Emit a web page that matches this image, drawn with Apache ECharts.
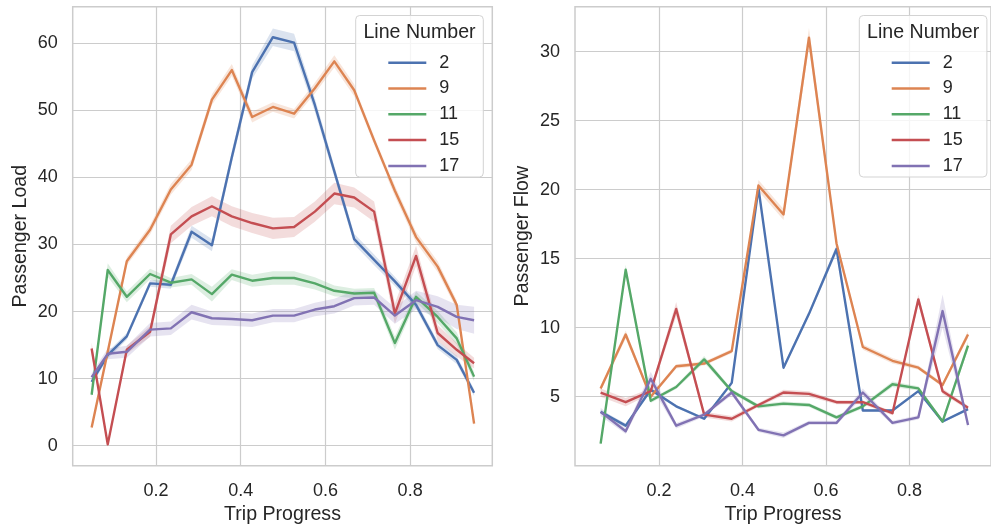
<!DOCTYPE html>
<html>
<head>
<meta charset="utf-8">
<script src="https://cdn.jsdelivr.net/npm/echarts@6/dist/echarts.min.js"></script>
<style>
  html, body { margin: 0; padding: 0; background: #ffffff; }
  #chart { width: 991px; height: 530px; }
</style>
</head>
<body>
<div id="chart"></div>
<script>
// Bus lines and their colours
const lineNames = ['2', '9', '11', '15', '17'];
const lineColors = ['#4c72b0', '#dd8452', '#55a868', '#c44e52', '#8172b3'];

// Left panel: mean passenger load along the trip
const loadProgress = [0.048, 0.086, 0.131, 0.186, 0.235, 0.284, 0.332, 0.379, 0.427, 0.476,
                      0.526, 0.575, 0.621, 0.668, 0.715, 0.764, 0.814, 0.865, 0.910, 0.951];
const load2  = [9.5, 13.5, 16.3, 24.2, 24.0, 31.9, 29.9, 43.0, 55.7, 60.9, 60.1, 50.8, 40.9, 30.8, 27.7, 24.5, 21.0, 15.0, 12.8, 7.9];
const load9  = [2.7, 14.0, 27.5, 32.2, 38.2, 41.9, 51.6, 56.0, 49.0, 50.5, 49.5, 53.3, 57.3, 53.0, 45.5, 38.0, 31.1, 26.7, 21.0, 3.3];
const load11 = [7.6, 26.2, 22.2, 25.6, 24.3, 24.8, 22.6, 25.5, 24.6, 25.0, 25.0, 24.2, 23.1, 22.7, 22.8, 15.3, 22.2, 19.2, 16.0, 10.3];
const load15 = [14.5, 0.2, 14.3, 17.0, 31.5, 34.2, 35.7, 34.2, 33.2, 32.4, 32.6, 34.9, 37.6, 37.0, 34.9, 19.7, 28.3, 16.8, 14.3, 12.3];
const load17 = [10.2, 13.7, 14.0, 17.3, 17.5, 19.9, 19.0, 18.9, 18.7, 19.4, 19.4, 20.3, 20.8, 22.0, 22.1, 19.4, 21.7, 20.7, 19.2, 18.7];
// half-width of the 95% confidence band for each load value
const loadCi2  = [0.5, 0.5, 0.5, 0.5, 0.6, 0.9, 0.9, 0.9, 1.0, 1.3, 1.3, 1.0, 0.8, 0.8, 0.8, 0.7, 0.6, 0.6, 0.6, 0.5];
const loadCi9  = [0.4, 0.5, 0.6, 0.7, 0.8, 0.8, 0.8, 0.9, 0.8, 0.7, 0.7, 0.8, 0.9, 0.9, 0.9, 0.8, 0.8, 0.8, 0.7, 0.5];
const loadCi11 = [0.5, 1.0, 0.8, 0.8, 0.7, 0.8, 1.1, 0.8, 0.9, 1.0, 1.0, 0.9, 0.8, 0.7, 0.7, 1.0, 0.8, 0.9, 0.9, 0.7];
const loadCi15 = [0.9, 0.3, 0.6, 0.8, 1.3, 1.4, 1.5, 1.5, 1.5, 1.6, 1.5, 1.5, 1.6, 1.5, 1.5, 1.5, 1.5, 1.2, 1.0, 0.8];
const loadCi17 = [0.6, 0.8, 0.9, 1.0, 1.0, 1.1, 1.0, 1.0, 1.0, 1.0, 1.0, 1.0, 1.1, 1.1, 1.1, 1.2, 1.4, 1.6, 1.8, 2.0];

// Right panel: mean passenger flow (boardings + alightings) along the trip
const flowProgress = [0.060, 0.120, 0.180, 0.241, 0.308, 0.374, 0.438, 0.498, 0.559, 0.625, 0.688, 0.759, 0.821, 0.879, 0.940];
const flow2  = [3.9, 2.9, 5.5, 4.3, 3.4, 6.0, 20.1, 7.1, 11.0, 15.7, 4.0, 4.0, 5.4, 3.2, 4.1];
const flow9  = [5.6, 9.5, 5.0, 7.2, 7.4, 8.3, 20.3, 18.2, 31.0, 16.1, 8.6, 7.6, 7.1, 5.85, 9.5];
const flow11 = [1.6, 14.2, 4.7, 5.7, 7.7, 5.4, 4.3, 4.5, 4.4, 3.5, 4.3, 5.9, 5.6, 3.2, 8.7];
const flow15 = [5.3, 4.6, 5.4, 11.35, 3.7, 3.4, 4.4, 5.3, 5.2, 4.6, 4.6, 3.8, 12.05, 5.4, 4.2];
const flow17 = [3.9, 2.5, 6.3, 2.9, 3.7, 5.3, 2.6, 2.2, 3.1, 3.1, 5.3, 3.1, 3.5, 11.2, 2.95];
const flowCi2  = [0.15, 0.15, 0.15, 0.1, 0.1, 0.15, 0.3, 0.15, 0.2, 0.3, 0.1, 0.1, 0.1, 0.1, 0.1];
const flowCi9  = [0.2, 0.3, 0.15, 0.15, 0.15, 0.15, 0.4, 0.4, 0.7, 0.3, 0.2, 0.2, 0.15, 0.15, 0.25];
const flowCi11 = [0.15, 0.35, 0.15, 0.15, 0.25, 0.15, 0.15, 0.15, 0.15, 0.15, 0.15, 0.2, 0.15, 0.15, 0.3];
const flowCi15 = [0.3, 0.3, 0.2, 0.5, 0.2, 0.2, 0.15, 0.2, 0.2, 0.15, 0.15, 0.15, 0.35, 0.2, 0.15];
const flowCi17 = [0.3, 0.2, 0.5, 0.2, 0.15, 0.2, 0.15, 0.2, 0.15, 0.15, 0.3, 0.15, 0.15, 1.2, 0.2];

// Tick labels
const progressTicks = [0.2, 0.4, 0.6, 0.8];
const loadTicks = [0, 10, 20, 30, 40, 50, 60];
const flowTicks = [5, 10, 15, 20, 25, 30];

const loadSeries = [load2, load9, load11, load15, load17];
const loadCis = [loadCi2, loadCi9, loadCi11, loadCi15, loadCi17];
const flowSeries = [flow2, flow9, flow11, flow15, flow17];
const flowCis = [flowCi2, flowCi9, flowCi11, flowCi15, flowCi17];

const FONT = '"Liberation Sans", Arial, sans-serif';
const TEXT = '#262626';
const GRIDLINE = '#cccccc';

function hexToRgba(hex, a) {
  const n = parseInt(hex.slice(1), 16);
  return 'rgba(' + (n >> 16 & 255) + ',' + (n >> 8 & 255) + ',' + (n & 255) + ',' + a + ')';
}

// A line with its confidence band: the band is a custom-series polygon
// whose upper and lower edges are mapped through the axis scales.
function lineWithBand(panel, idx, xs, ys, ci) {
  const name = lineNames[idx];
  const color = lineColors[idx];
  const fill = hexToRgba(color, 0.2);
  return [
    {
      type: 'custom', name: name + ' band', xAxisIndex: panel, yAxisIndex: panel,
      silent: true, animation: false, clip: true,
      data: [[xs[0], ys[0]]],
      renderItem: function (params, api) {
        const upper = xs.map((x, i) => api.coord([x, ys[i] + ci[i]]));
        const lower = xs.map((x, i) => api.coord([x, ys[i] - ci[i]])).reverse();
        return {
          type: 'polygon',
          shape: { points: upper.concat(lower) },
          style: { fill: fill, stroke: null }
        };
      }
    },
    {
      type: 'line', name: name, xAxisIndex: panel, yAxisIndex: panel,
      symbol: 'none', silent: true, animation: false, color: color,
      lineStyle: { color: color, width: 2.4, join: 'round' },
      data: xs.map((x, i) => [x, ys[i]])
    }
  ];
}

const series = [];
lineNames.forEach((_, i) => series.push(...lineWithBand(0, i, loadProgress, loadSeries[i], loadCis[i])));
lineNames.forEach((_, i) => series.push(...lineWithBand(1, i, flowProgress, flowSeries[i], flowCis[i])));

function xAxisFor(grid, min, max) {
  return {
    gridIndex: grid, type: 'value', min: min, max: max,
    axisLine: { show: false },
    axisTick: { show: false, customValues: progressTicks },
    axisLabel: {
      customValues: progressTicks, fontSize: 18, color: TEXT, fontFamily: FONT, margin: 16,
      formatter: v => v.toFixed(1)
    },
    splitLine: { show: true, lineStyle: { color: GRIDLINE, width: 1.2 } },
    name: 'Trip Progress', nameLocation: 'middle', nameGap: 39,
    nameTextStyle: { fontSize: 19.6, color: TEXT, fontFamily: FONT }
  };
}

function yAxisFor(grid, min, max, ticks, title) {
  return {
    gridIndex: grid, type: 'value', min: min, max: max,
    axisLine: { show: false },
    axisTick: { show: false, customValues: ticks },
    axisLabel: { customValues: ticks, fontSize: 18, color: TEXT, fontFamily: FONT, margin: 15 },
    splitLine: { show: true, lineStyle: { color: GRIDLINE, width: 1.2 } },
    name: title, nameLocation: 'middle', nameGap: 42,
    nameTextStyle: { fontSize: 19.6, color: TEXT, fontFamily: FONT }
  };
}

function legendFor(left) {
  return {
    data: lineNames, orient: 'vertical', left: left, top: 47.7,
    icon: 'rect', itemWidth: 38, itemHeight: 2.5, itemGap: 5.8,
    selectedMode: false,
    textStyle: { fontSize: 18, color: TEXT, fontFamily: FONT, lineHeight: 20, padding: [0, 0, 0, 8] }
  };
}

function legendFrame(x, width) {
  return [
    {
      type: 'rect', z: 3,
      shape: { x: x, y: 15.5, width: width, height: 161.5, r: 4 },
      style: { fill: 'rgba(255,255,255,0.8)', stroke: '#d3d3d3', lineWidth: 1 }
    },
    {
      type: 'text', z: 5, x: x + width / 2, y: 32.3,
      style: {
        text: 'Line Number', fontSize: 19.6, fontFamily: FONT, fill: TEXT,
        align: 'center', verticalAlign: 'middle'
      }
    }
  ];
}

const chart = echarts.init(document.getElementById('chart'), null, { renderer: 'canvas' });
chart.setOption({
  animation: false,
  backgroundColor: '#ffffff',
  grid: [
    { left: 72.7, top: 6.7, width: 419.6, height: 459, show: true, borderColor: GRIDLINE, borderWidth: 1.5, backgroundColor: 'transparent' },
    { left: 575, top: 6.7, width: 420.5, height: 459, show: true, borderColor: GRIDLINE, borderWidth: 1.5, backgroundColor: 'transparent' }
  ],
  xAxis: [xAxisFor(0, 0.0033, 0.994), xAxisFor(1, -0.0014, 0.995)],
  yAxis: [
    yAxisFor(0, -2.98, 65.45, loadTicks, 'Passenger Load'),
    yAxisFor(1, 0.0, 33.25, flowTicks, 'Passenger Flow')
  ],
  legend: [legendFor(383.3), legendFor(886.7)],
  graphic: { elements: [...legendFrame(355.7, 127.6), ...legendFrame(859.3, 127.6)] },
  series: series
});
</script>
</body>
</html>
